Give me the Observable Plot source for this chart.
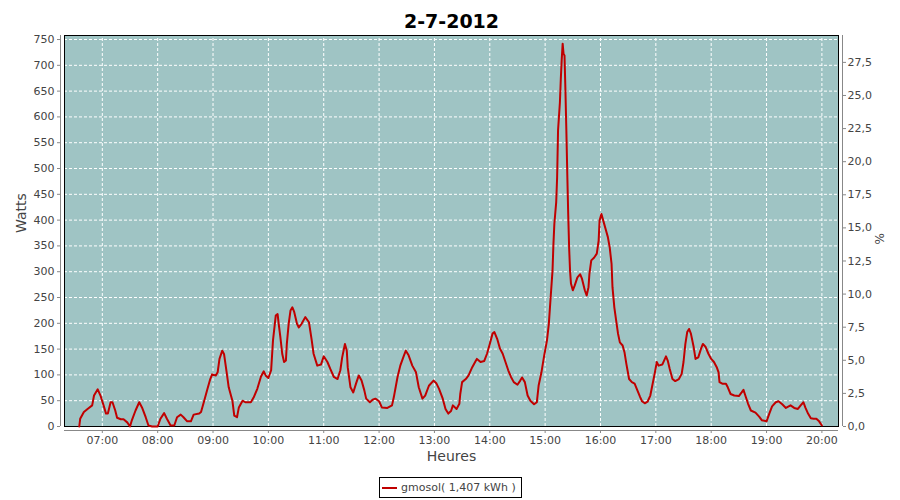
<!DOCTYPE html>
<html>
<head>
<meta charset="utf-8">
<script src="https://cdn.jsdelivr.net/npm/d3@7"></script>
<script src="https://cdn.jsdelivr.net/npm/@observablehq/plot@0.6"></script>
<style>
  body { margin: 0; background: #fff; font-family: "DejaVu Sans", sans-serif; }
  #chart { position: absolute; left: 0; top: 0; }
  #legend { position: absolute; left: 379px; top: 477px; width: 143px; height: 21px;
    box-sizing: border-box; border: 1px solid #000; background: #fff;
    display: flex; align-items: center; font-size: 11px; color: #444; white-space: nowrap; }
  #legend .sw { display: inline-block; width: 15px; height: 2px; background: #c00000; margin: 0 4px 0 2px; }
</style>
</head>
<body>
<div id="chart"></div>
<div id="legend"><span class="sw"></span><span id="legtext"></span></div>
<script>
// ---- data (minutes since midnight, watts) ----
const times = [
  395,396,400,404,409,411,415,418,
  422,424,426,429,431,434,436,440,443,447,450,452,456,460,463,467,470,474,
  480,483,487,490,494,498,501,505,508,512,516,519,525,527,530,534,537,539,
  543,545,547,550,552,555,557,561,563,566,568,572,575,581,584,588,592,595,597,
  600,603,605,608,610,611,613,615,617,619,620,622,624,626,628,631,633,636,640,644,647,649,653,657,
  660,664,667,671,675,678,680,683,685,686,689,692,695,698,701,704,706,710,713,716,
  720,723,729,734,736,740,743,747,749,752,756,760,763,767,770,774,779,
  782,785,789,792,795,798,800,804,807,808,810,814,817,821,825,826,830,834,837,
  840,843,845,848,851,854,857,860,863,866,870,873,875,878,881,884,888,891,893,896,899,
  902,904,906,908,909,910,912,913,914,916,917,918,919,920,921,922,923,924,925,926,927,928,930,932,935,938,940,943,945,947,948,950,953,956,958,959,
  961,963,966,968,970,972,973,975,977,979,981,984,986,988,991,994,997,1000,1003,1005,1008,1011,1014,1016,1019,
  1021,1023,1027,1031,1033,1035,1038,1041,1045,1048,1050,1052,1054,1056,1058,1061,1063,1066,1069,1071,1074,1077,
  1080,1083,1086,1088,1089,1092,1096,1098,1101,1105,1110,1113,1115,1117,1120,1123,1128,1132,1135,
  1140,1143,1146,1150,1153,1157,1161,1166,1170,1174,1177,1180,1182,1185,1188,1191,1194,1197,1200
];
const watts = [
  0,15,28,34,41,60,72,60,
  37,25,25,47,47,31,17,14,14,8,0,12,31,47,37,18,2,0,
  0,15,26,15,2,2,18,23,18,10,10,23,25,28,47,73,92,101,
  99,105,131,147,140,102,76,50,21,18,37,50,47,47,56,73,97,107,99,
  94,109,167,215,218,202,173,141,125,128,160,199,225,231,222,199,192,199,212,202,167,141,118,120,
  136,125,112,96,92,109,134,160,147,115,76,66,83,99,89,70,54,47,52,54,
  49,37,36,41,57,96,118,138,147,138,118,105,76,54,60,79,89,
  84,73,54,34,25,30,41,34,44,63,86,92,99,115,128,131,125,127,141,
  160,180,183,170,151,141,125,109,96,86,81,89,95,86,60,50,43,47,80,105,138,
  167,199,251,302,354,393,435,483,574,628,674,712,742,722,719,651,574,490,412,347,302,277,264,273,289,295,286,264,254,270,296,322,327,335,360,399,
  412,399,380,367,347,315,270,231,205,180,163,157,144,122,92,86,83,70,57,49,45,48,60,78,105,
  125,118,120,136,127,112,92,88,92,102,125,160,183,189,180,154,131,134,151,160,154,141,
  131,125,115,105,86,83,83,76,63,60,59,66,71,60,44,31,27,19,12,
  10,25,39,47,49,43,36,41,36,34,41,47,37,25,16,15,15,10,2
];
const hourTicks = [420,480,540,600,660,720,780,840,900,960,1020,1080,1140,1200];
const hourLabels = ["07:00","08:00","09:00","10:00","11:00","12:00","13:00","14:00","15:00","16:00","17:00","18:00","19:00","20:00"];
const wattTicks = [0,50,100,150,200,250,300,350,400,450,500,550,600,650,700,750];
const pctTicks = [0,2.5,5,7.5,10,12.5,15,17.5,20,22.5,25,27.5];
const titleText = "2-7-2012";
const seriesName = "gmosol( 1,407 kWh )";

// ---- chart ----
const xMin = 379, xMax = 1218, yMax = 757.8, pctMax = 29.53;
const k = yMax / pctMax;
const data = times.map((t, i) => ({t, w: watts[i]}));
const teal = "#9fc4c4", red = "#c00000";

const chart = Plot.plot({
  width: 900, height: 472,
  marginLeft: 60, marginRight: 58, marginTop: 35, marginBottom: 42,
  style: {fontFamily: "DejaVu Sans", fontSize: "11px", background: "white", color: "#444"},
  x: {type: "linear", domain: [xMin, xMax], insetLeft: 4, insetRight: 4},
  y: {type: "linear", domain: [0, yMax], insetBottom: 4},
  marks: [
    Plot.frame({fill: teal, insetLeft: 4, insetRight: 4, insetBottom: 4}),
    Plot.ruleY(wattTicks, {x1: xMin, x2: xMax, stroke: "white", strokeDasharray: "3,2"}),
    Plot.ruleX(hourTicks, {y1: 0, y2: yMax, stroke: "white", strokeDasharray: "3,2"}),
    Plot.frame({stroke: "#000", insetLeft: 4, insetRight: 4, insetBottom: 4}),
    Plot.line(data, {x: "t", y: "w", stroke: red, strokeWidth: 2}),
    Plot.ruleX([xMin], {y1: 0, y2: yMax, dx: -4, stroke: "#888"}),
    Plot.ruleX([xMax], {y1: 0, y2: yMax, dx: 4, stroke: "#888"}),
    Plot.ruleY([0], {x1: xMin, x2: xMax, dy: 4, stroke: "#888"}),
    Plot.axisY(wattTicks, {anchor: "left", tickSize: 3, tickPadding: 3, label: null, stroke: "#888", fill: "#444"}),
    Plot.axisY(pctTicks.map(p => p * k), {anchor: "right", tickSize: 3, tickPadding: 2, label: null,
      stroke: "#888", fill: "#444", tickFormat: d => (d / k).toFixed(1).replace(".", ",")}),
    Plot.axisX(hourTicks, {anchor: "bottom", tickSize: 3, tickPadding: 3, label: null,
      stroke: "#888", fill: "#444", tickFormat: d => hourLabels[hourTicks.indexOf(d)]}),
    Plot.text([titleText], {frameAnchor: "top", dy: -21, fontSize: 19, fontWeight: "bold", fill: "#000"}),
    Plot.text(["Watts"], {frameAnchor: "left", dx: -39, rotate: -90, fontSize: 14, fill: "#444"}),
    Plot.text(["Heures"], {frameAnchor: "bottom", dy: 30, fontSize: 14, fill: "#444"}),
    Plot.text(["%"], {frameAnchor: "right", dx: 38, rotate: -90, fontSize: 12, fill: "#444"})
  ]
});
document.getElementById("chart").appendChild(chart);
document.getElementById("legtext").textContent = seriesName;
</script>
</body>
</html>
